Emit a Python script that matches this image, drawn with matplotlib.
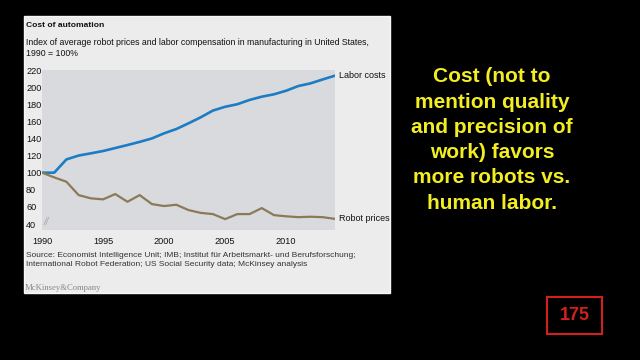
import matplotlib
matplotlib.use("Agg")
import matplotlib.pyplot as plt
from matplotlib.patches import Rectangle

# data (index, 1990 = 100)
years = list(range(1990, 2015))
labor_costs = [100, 100, 115.5, 120, 122.6, 125.3, 128.8, 132.3, 136, 140,
               146, 151, 157.7, 164.7, 172.6, 177, 180, 185, 188.8, 191.6,
               195.8, 201.3, 204.4, 209, 213.4]
robot_prices = [100, 94.5, 89.4, 73.8, 70, 68.8, 75, 66, 73.8, 63.3,
                61, 62.5, 56.3, 53, 51.6, 45.7, 51.6, 51.6, 58.6, 50.4,
                49, 48, 48.5, 48, 46]
yticks = [40, 60, 80, 100, 120, 140, 160, 180, 200, 220]
xticks = [1990, 1995, 2000, 2005, 2010]

W, H = 640, 360
def fx(px):
    return px / W
def fy(py):
    return 1 - py / H

plt.rcParams['font.family'] = ['Liberation Sans', 'DejaVu Sans']

fig = plt.figure(figsize=(6.4, 3.6), dpi=100, facecolor='black')

# light panel behind the chart
fig.patches.append(Rectangle((fx(24), fy(293)), fx(390) - fx(24), fy(16) - fy(293),
                             transform=fig.transFigure, facecolor='#ececec',
                             edgecolor='#f8f8f8', linewidth=1, zorder=-5))

ax = fig.add_axes([fx(42), fy(230), fx(335) - fx(42), fy(70) - fy(230)])
ax.set_zorder(2)
ax.set_facecolor('#d9dadd')
ax.plot(years, labor_costs, color='#1c7cc4', linewidth=1.9, solid_capstyle='round')
ax.plot(years, robot_prices, color='#8b7a58', linewidth=1.6, solid_capstyle='round')
ax.set_xlim(1990, 2014)
ax.set_ylim(33, 220)
for s in ax.spines.values():
    s.set_visible(False)
ax.set_yticks(yticks)
ax.set_xticks(xticks)
ax.tick_params(axis='y', length=0, pad=11.5, labelsize=6.6, labelcolor='#111111')
ax.tick_params(axis='x', length=0, pad=5, labelsize=6.6, labelcolor='#111111')
for lab in ax.get_yticklabels():
    lab.set_horizontalalignment('left')

# axis break mark
ax.text(0.006, 0.05, '//', transform=ax.transAxes, fontsize=7, color='#a8a8a8',
        ha='left', va='center', style='italic')

ax.annotate('Labor costs', (years[-1], labor_costs[-1]), xytext=(3, 0),
            textcoords='offset points', fontsize=6.5, va='center', color='#111111',
            annotation_clip=False)
ax.annotate('Robot prices', (years[-1], robot_prices[-1]), xytext=(3, 0),
            textcoords='offset points', fontsize=6.5, va='center', color='#111111',
            annotation_clip=False)

fig.text(fx(26), fy(25.5), 'Cost of automation', fontsize=6.1, fontweight='bold',
         color='#111111', va='center')
fig.text(fx(26), fy(48), 'Index of average robot prices and labor compensation in manufacturing in United States,\n1990 = 100%',
         fontsize=6.3, color='#111111', va='center', linespacing=1.4)
fig.text(fx(26), fy(260), 'Source: Economist Intelligence Unit; IMB; Institut für Arbeitsmarkt- und Berufsforschung;\nInternational Robot Federation; US Social Security data; McKinsey analysis',
         fontsize=6.05, color='#333333', va='center', linespacing=1.5)
fig.text(fx(25), fy(288), 'McKinsey&Company', fontsize=6.2, family='Liberation Serif',
         color='#888888', va='center')

fig.text(fx(492), fy(140), 'Cost (not to\nmention quality\nand precision of\nwork) favors\nmore robots vs.\nhuman labor.',
         fontsize=15, fontweight='bold', color='#f2ee22', ha='center', va='center',
         linespacing=1.42)

fig.patches.append(Rectangle((fx(547), fy(334)), fx(602) - fx(547), fy(297) - fy(334),
                             transform=fig.transFigure, facecolor='none',
                             edgecolor='#d41f1f', linewidth=1.5))
fig.text(fx(575), fy(316), '175', fontsize=13, fontweight='bold', color='#d41f1f',
         ha='center', va='center')

fig.savefig('out.png', dpi=100, facecolor='black')
